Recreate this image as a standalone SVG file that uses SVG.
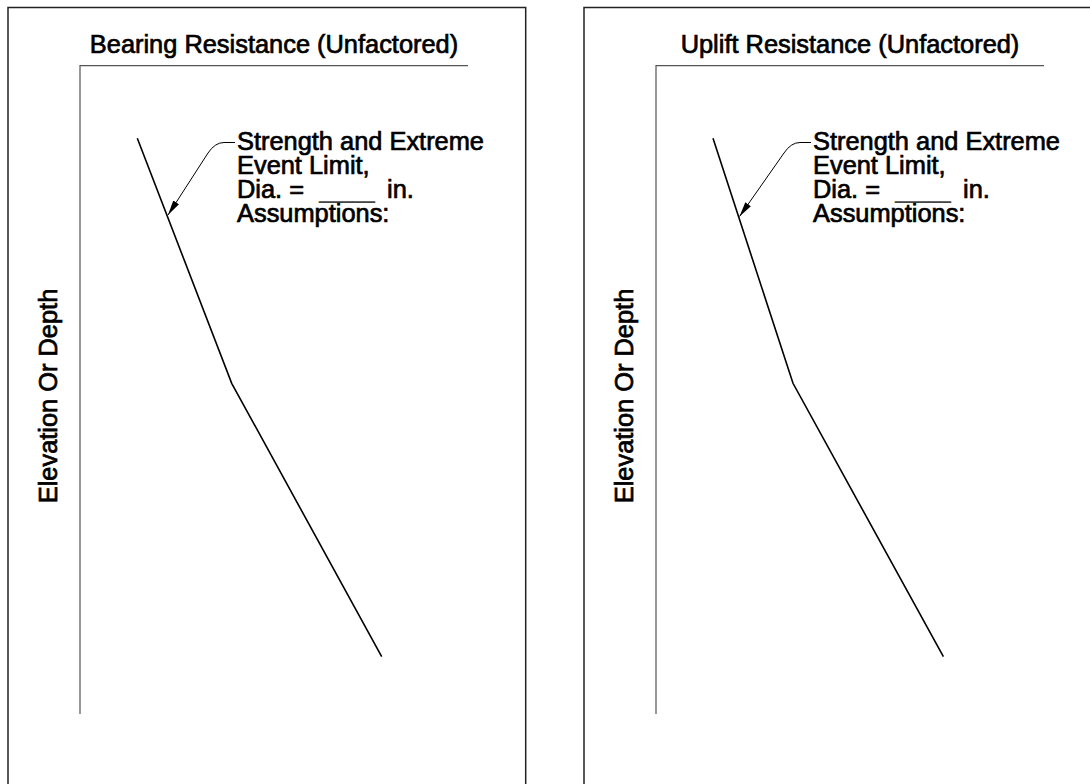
<svg xmlns="http://www.w3.org/2000/svg" width="1090" height="784" viewBox="0 0 1090 784">
<defs>
<style>
.frame{fill:none;stroke:#222;stroke-width:1.5}
.axis{fill:none;stroke:#555;stroke-width:1.2}
.curve{fill:none;stroke:#000;stroke-width:1.6}
.leader{fill:none;stroke:#000;stroke-width:1}
text{font-family:"Liberation Sans",Arial,sans-serif;font-size:25.4px;fill:#000;stroke:#000;stroke-width:0.7}
.title{text-anchor:middle}
.ylab{text-anchor:middle}
.blank{stroke:none;fill:#444}
</style>
<marker id="arrow" markerUnits="userSpaceOnUse" markerWidth="16" markerHeight="8" refX="15" refY="3.4" orient="auto">
<path d="M0,0 L15,3.4 L0,6.8 Z" fill="#000"/>
</marker>
</defs>
<rect x="0" y="0" width="1090" height="784" fill="#fff"/>

<g id="panel-bearing">
<path class="frame" d="M8,784 V7.5 H525.7 V784"/>
<text class="title" x="274" y="53">Bearing Resistance (Unfactored)</text>
<path class="axis" d="M80,714 V65.7 H468"/>
<text class="ylab" transform="translate(56.5,396) rotate(-90)">Elevation Or Depth</text>
<polyline class="curve" points="137.3,138.3 231.7,383.3 381.7,656.7"/>
<text x="237" y="150">Strength and Extreme<tspan x="237" y="174">Event Limit,</tspan><tspan x="237" y="198">Dia. =</tspan><tspan class="blank" x="319" y="198" textLength="56" lengthAdjust="spacingAndGlyphs">_____</tspan><tspan x="387" y="198">in.</tspan><tspan x="237" y="221.5">Assumptions:</tspan></text>
</g>

<g id="panel-uplift">
<path class="frame" d="M584,784 V7.5 H1090"/>
<text class="title" x="850" y="53">Uplift Resistance (Unfactored)</text>
<path class="axis" d="M656,714 V65.7 H1044"/>
<text class="ylab" transform="translate(632.5,396) rotate(-90)">Elevation Or Depth</text>
<polyline class="curve" points="713,138.3 793,383.3 943.4,656.7"/>
<text x="813" y="150">Strength and Extreme<tspan x="813" y="174">Event Limit,</tspan><tspan x="813" y="198">Dia. =</tspan><tspan class="blank" x="895" y="198" textLength="56" lengthAdjust="spacingAndGlyphs">_____</tspan><tspan x="963" y="198">in.</tspan><tspan x="813" y="221.5">Assumptions:</tspan></text>
</g>

<g id="connectors">
<path class="leader" marker-end="url(#arrow)" d="M235,142.5 H224 Q215,142.5 208,153 L168,215"/>
<path class="leader" marker-end="url(#arrow)" d="M811,142.5 H800 Q791,142.5 784,153 L739.5,216.5"/>
</g>
</svg>
